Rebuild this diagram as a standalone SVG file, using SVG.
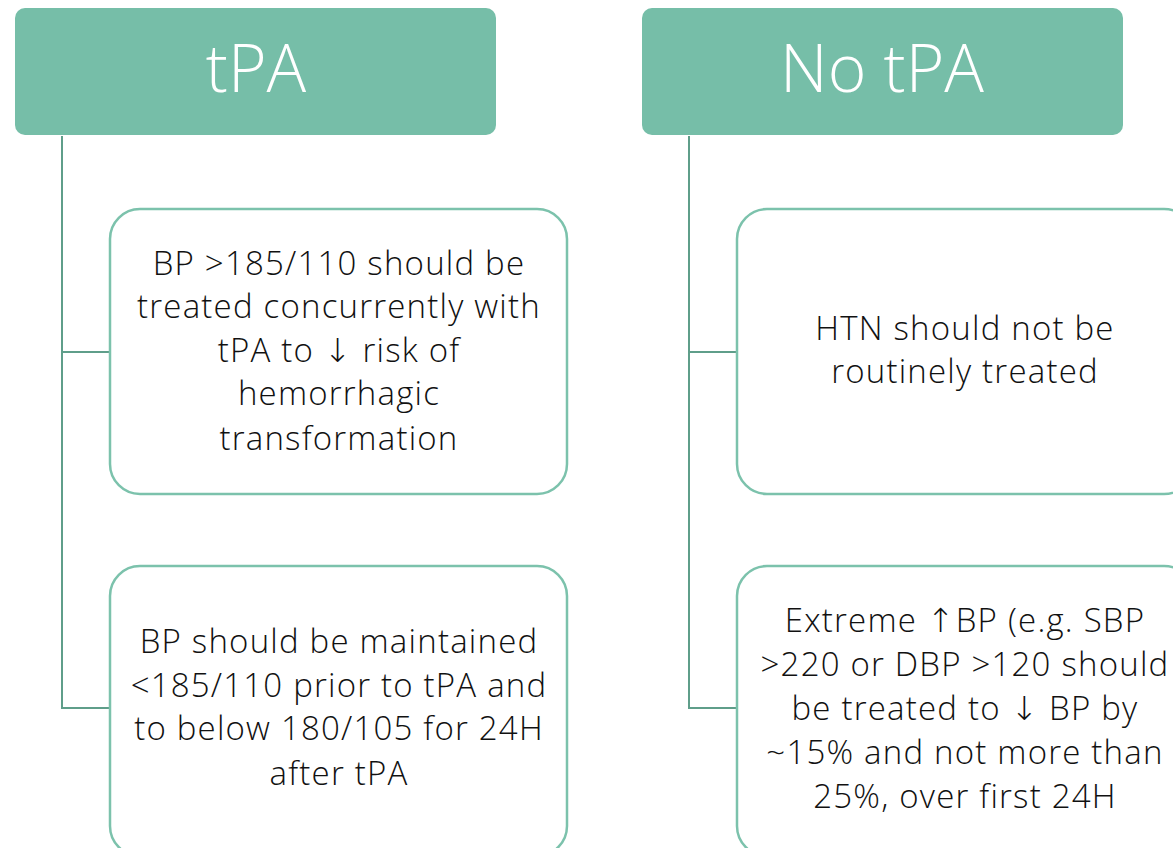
<svg xmlns="http://www.w3.org/2000/svg" width="1173" height="848" viewBox="0 0 1173 848">
  <style>
    .head { fill: #76bea8; }
    .head-text { font-family: "Open Sans", "Liberation Sans", sans-serif; font-weight: 300; font-size: 66px; fill: #ffffff; text-anchor: middle; }
    .box { fill: #ffffff; stroke: #7cc2ac; stroke-width: 2.5; }
    .body-text { font-family: "Open Sans", "Liberation Sans", sans-serif; font-weight: 300; font-size: 33px; letter-spacing: 1.2px; fill: #111111; text-anchor: middle; }
    .arrow { font-family: "DejaVu Sans", sans-serif; font-weight: 200; }
    .link { fill: none; stroke: #5f9e8a; stroke-width: 2; }
  </style>
  <rect width="1173" height="848" fill="#ffffff"/>

  <!-- connectors from each heading to its boxes -->
  <g id="connectors">
    <path class="link" d="M62 136 V708 H110 M62 352 H110"/>
    <path class="link" d="M689 136 V708 H737 M689 352 H737"/>
  </g>

  <!-- left column -->
  <g id="head-tpa">
    <rect class="head" x="15" y="8" width="481" height="127" rx="10"/>
    <text class="head-text" x="256" y="92">tPA</text>
  </g>
  <g id="tpa-treat">
    <rect class="box" x="110" y="209" width="457" height="285" rx="30"/>
    <text class="body-text" x="339" y="275">BP &gt;185/110 should be</text>
    <text class="body-text" x="339" y="318">treated concurrently with</text>
    <text class="body-text" x="339" y="362">tPA to <tspan class="arrow">↓</tspan> risk of</text>
    <text class="body-text" x="339" y="405">hemorrhagic</text>
    <text class="body-text" x="339" y="450">transformation</text>
  </g>
  <g id="tpa-maintain">
    <rect class="box" x="110" y="566" width="457" height="290" rx="30"/>
    <text class="body-text" x="339" y="653">BP should be maintained</text>
    <text class="body-text" x="339" y="697">&lt;185/110 prior to tPA and</text>
    <text class="body-text" x="339" y="740">to below 180/105 for 24H</text>
    <text class="body-text" x="339" y="785">after tPA</text>
  </g>

  <!-- right column -->
  <g id="head-no-tpa">
    <rect class="head" x="642" y="8" width="481" height="127" rx="10"/>
    <text class="head-text" x="882" y="92">No tPA</text>
  </g>
  <g id="no-tpa-routine">
    <rect class="box" x="737" y="209" width="457" height="285" rx="30"/>
    <text class="body-text" x="965" y="340">HTN should not be</text>
    <text class="body-text" x="965" y="383">routinely treated</text>
  </g>
  <g id="no-tpa-extreme">
    <rect class="box" x="737" y="566" width="457" height="290" rx="30"/>
    <text class="body-text" x="965" y="632">Extreme <tspan class="arrow">↑</tspan>BP (e.g. SBP</text>
    <text class="body-text" x="965" y="676">&gt;220 or DBP &gt;120 should</text>
    <text class="body-text" x="965" y="720">be treated to <tspan class="arrow">↓</tspan> BP by</text>
    <text class="body-text" x="965" y="764">~15% and not more than</text>
    <text class="body-text" x="965" y="808">25%, over first 24H</text>
  </g>
</svg>
